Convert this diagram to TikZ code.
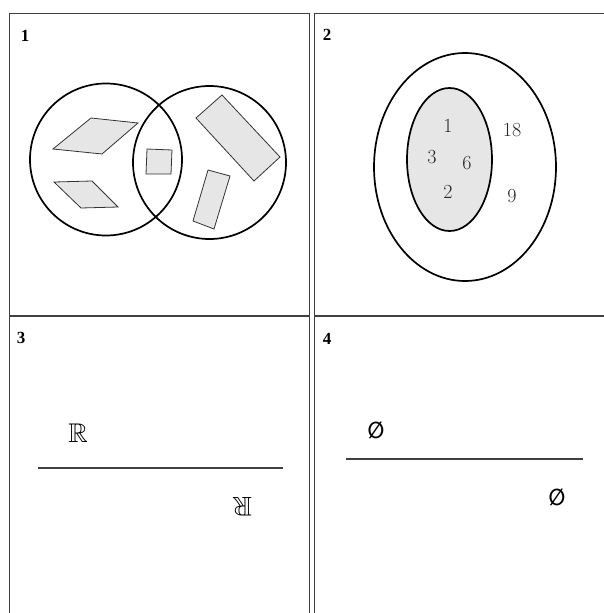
\documentclass[tikz,border=0pt]{standalone}
\usepackage{amssymb}
\usepackage{fontspec}
\newfontfamily\timesf{Liberation Serif}
\newfontfamily\symf{DejaVu Sans}
\definecolor{shapefill}{HTML}{E6E6E6}
\definecolor{framecol}{HTML}{404040}
\begin{document}
\begin{tikzpicture}[x=1pt,y=-1pt,
  cell/.style={draw=framecol,line width=1pt},
  setline/.style={draw=black,line width=1.7pt},
  piece/.style={draw=black!80,fill=shapefill,line width=0.8pt},
  panellabel/.style={inner sep=0pt,font=\timesf\bfseries\fontsize{17}{17}\selectfont},
  elem/.style={inner sep=0pt,text=black!85,font=\fontsize{20}{20}\selectfont},
  bar/.style={draw=black!75,line width=1.8pt},
  bbr/.style={inner sep=0pt,font=\fontsize{27}{27}\selectfont},
  emp/.style={inner sep=0pt,xscale=0.85,font=\symf\fontsize{23}{23}\selectfont}]
\useasboundingbox (0,0) rectangle (603,613);
\fill[white] (0,0) rectangle (603,613);
% cells
\draw[cell] (9,13) rectangle (309,315.5);
\draw[cell] (314,13) rectangle (610,315.5);
\draw[cell] (9,316.5) rectangle (309,620);
\draw[cell] (314,316.5) rectangle (610,620);
% labels
\node[panellabel] (l1) at (25,36) {1};
\node[panellabel] (l2) at (327,35) {2};
\node[panellabel] (l3) at (21,338) {3};
\node[panellabel] (l4) at (327,339) {4};
% panel 1
\draw[piece] (53,149) -- (91,118) -- (138,123) -- (102,154) -- cycle;
\draw[piece] (54,182) -- (92,181) -- (118,207) -- (81,208) -- cycle;
\draw[piece] (147,149) -- (172,150) -- (171,174) -- (146,174) -- cycle;
\draw[piece] (196,118) -- (222,95) -- (280,157) -- (254,181) -- cycle;
\draw[piece] (208,170) -- (230,176) -- (214,229) -- (193,221) -- cycle;
\draw[setline] (106,159.5) circle[radius=76];
\draw[setline] (209.5,162.5) circle[radius=76.5];
% panel 2
\draw[setline] (465,167) ellipse[x radius=91,y radius=114];
\draw[setline,fill=shapefill] (449.5,159.5) ellipse[x radius=42.5,y radius=71.5];
\node[elem] (n1) at (448,126) {1};
\node[elem] (n18) at (512,130) {18};
\node[elem] (n3) at (432,157) {3};
\node[elem] (n6) at (467,163) {6};
\node[elem] (n2) at (448,192) {2};
\node[elem] (n9) at (512,196) {9};
% panel 3
\node[bbr] (r1) at (78,433) {$\mathbb{R}$};
\node[bbr,rotate=180] (r2) at (242,507) {$\mathbb{R}$};
\coordinate (a3) at (38,468);
\coordinate (b3) at (283,468);
\draw[bar] (a3) -- (b3);
% panel 4
\node[emp] (e1) at (376,430) {\bfseries ∅};
\node[emp] (e2) at (557,497) {\bfseries ∅};
\coordinate (a4) at (346,459);
\coordinate (b4) at (583,459);
\draw[bar] (a4) -- (b4);
\end{tikzpicture}
\end{document}
